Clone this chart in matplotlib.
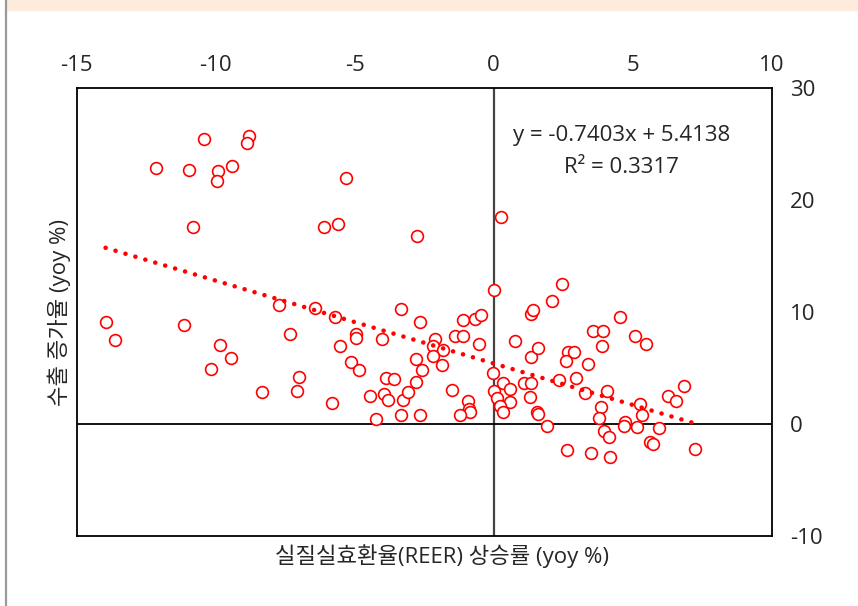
import matplotlib
matplotlib.use("Agg")
import matplotlib.pyplot as plt
import numpy as np

plt.rcParams['font.family'] = ['Open Sans', 'Noto Sans CJK KR', 'DejaVu Sans']
plt.rcParams['axes.unicode_minus'] = False

# REER 상승률 (x) vs 수출 증가율 (y), yoy %
reer_x = [-10.42, -8.79, -8.88, -12.14, -10.97, -9.93, -9.95, -9.42, -5.30, -10.83,
          -6.09, -5.59, -13.96, -11.15, -7.73, -6.42, -5.71, -2.75, 0.25, 0.00,
          -3.35, -2.65, -1.12, -0.67, -0.46, 1.33, 1.40, 2.11, 2.44, 4.55,
          -13.61, -7.32, -9.86, -9.46, -10.18, -7.00, -7.09, -8.35, -5.83, -5.54,
          -4.97, -4.96, -5.14, -4.83, -4.02, -3.88, -3.58, -4.44, -3.95, -3.79,
          -3.26, -3.08, -2.78, -2.81, -2.59, -4.23, -3.35, -2.65, -2.11, -2.19,
          -1.82, -2.17, -1.85, -1.39, -1.10, -0.54, -1.51, -0.94, -0.88, -0.85,
          -1.21, -0.01, 0.32, 0.01, 0.12, 0.60, 0.58, 0.24, 0.32, 0.76,
          1.33, 1.58, 1.09, 1.34, 1.32, 1.55, 1.59, 1.91, 2.34, 2.64,
          3.49, 4.19, 2.95, 2.68, 2.90, 2.61, 3.38, 3.58, 3.92, 3.90,
          3.29, 4.06, 3.86, 3.80, 3.95, 4.16, 4.72, 4.67, 5.14, 5.10,
          5.49, 6.85, 6.26, 6.56, 5.26, 5.32, 5.95, 5.62, 5.72, 7.25]
export_y = [25.50, 25.71, 25.14, 22.85, 22.70, 22.58, 21.74, 23.06, 21.98, 17.58,
            17.60, 17.87, 9.09, 8.85, 10.61, 10.37, 9.56, 16.83, 18.50, 11.95,
            10.28, 9.09, 9.27, 9.41, 9.77, 9.87, 10.19, 11.02, 12.51, 9.56,
            7.53, 8.04, 7.06, 5.92, 4.89, 4.20, 2.98, 2.89, 1.88, 7.00,
            8.07, 7.66, 5.57, 4.83, 7.62, 4.14, 3.99, 2.50, 2.68, 2.12,
            2.12, 2.89, 3.75, 5.81, 4.85, 0.45, 0.80, 0.83, 7.57, 7.00,
            6.59, 6.08, 5.25, 7.89, 7.89, 7.18, 3.01, 2.06, 1.37, 1.07,
            0.80, 4.56, 3.69, 2.98, 2.35, 3.10, 1.99, 1.61, 1.10, 7.42,
            5.96, 6.79, 3.66, 3.66, 2.44, 1.07, 0.89, -0.18, 3.93, -2.32,
            -2.59, -2.90, 4.08, 6.46, 6.46, 5.60, 5.41, 8.28, 8.28, 6.94,
            2.79, 2.99, 1.49, 0.58, -0.65, -1.12, 0.21, -0.15, -0.29, 7.91,
            7.12, 3.42, 2.53, 2.06, 1.79, 0.83, -0.38, -1.58, -1.79, -2.21]

# linear trend (Excel style)
slope = -0.7403
intercept = 5.4138
r_squared = 0.3317

x_ticks = [-15, -10, -5, 0, 5, 10]
y_ticks = [-10, 0, 10, 20, 30]

fig = plt.figure(figsize=(8.58, 6.06), dpi=100)
W, H = 858, 606

# page frame: peach strip on top, grey rule on the left
fig.patches.append(plt.Rectangle((7 / W, 1 - 10 / H), 1, 10 / H,
                                 transform=fig.transFigure, color="#FDEBDC", zorder=0))
fig.lines.append(plt.Line2D([5.5 / W, 5.5 / W], [0, 1], transform=fig.transFigure,
                            color="#9a9a9a", lw=1.6))

ax = fig.add_axes([76.7 / W, 70 / H, 695 / W, 447.7 / H])
ax.set_xlim(-15, 10)
ax.set_ylim(-10, 30)

ax.axvline(0, color="#444444", lw=1.6, zorder=1)
ax.axhline(0, color="black", lw=1.3, zorder=1)

ax.scatter(reer_x, export_y, s=72, facecolors="white", edgecolors="#FF0000",
           linewidths=1.2, zorder=3)

tx = np.array([min(reer_x), max(reer_x)])
ax.plot(tx, slope * tx + intercept, color="#FF0000", lw=3.3,
        linestyle=(0, (0.01, 2.25)), dash_capstyle="round", zorder=4)

for s in ax.spines.values():
    s.set_color("black")
    s.set_linewidth(1.3)

ax.xaxis.tick_top()
ax.yaxis.tick_right()
ax.set_xticks(x_ticks)
ax.set_yticks(y_ticks)
ax.tick_params(axis="both", length=0, labelsize=16, colors="#262626")
ax.tick_params(axis="x", pad=9)
ax.tick_params(axis="y", pad=13)

ax.text(0.784, 0.895, f"y = {slope}x + {intercept}", transform=ax.transAxes,
        ha="center", va="center", fontsize=16, color="#262626")
ax.text(0.784, 0.823, f"R² = {r_squared}", transform=ax.transAxes,
        ha="center", va="center", fontsize=16, color="#262626")

fig.text(442 / W, 1 - 556 / H, "실질실효환율(REER) 상승률 (yoy %)", ha="center",
         va="center", fontsize=16, color="#262626")
fig.text(59 / W, 1 - 312 / H, "수출 증가율 (yoy %)", ha="center", va="center",
         rotation=90, fontsize=16, color="#262626")

fig.savefig("out.png", dpi=100)
